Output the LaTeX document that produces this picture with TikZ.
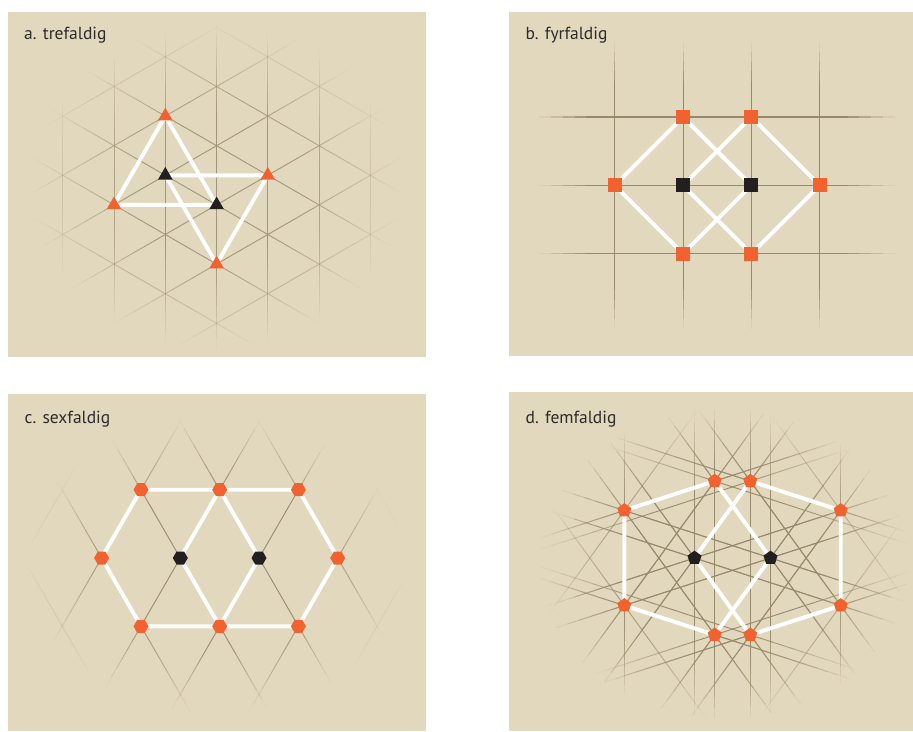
\documentclass[tikz,border=0pt]{standalone}
\usepackage{fontspec}
\setmainfont{PT Sans}
\usetikzlibrary{shapes.geometric}
\definecolor{bg}{HTML}{E2D8BD}
\definecolor{gridc}{HTML}{978A6C}
\definecolor{org}{HTML}{F26231}
\definecolor{blk}{HTML}{231F20}
\definecolor{txt}{HTML}{2E2C2A}
\pgfdeclarelayer{back}
\pgfdeclarelayer{mid}
\pgfsetlayers{back,mid,main}
% faded line: opacity from an elliptical radial profile
\def\setfade#1#2#3#4#5{\def\fcx{#1}\def\fcy{#2}\def\frx{#3}\def\fry{#4}\def\frz{#5}}
\def\fN{30}
\newcommand\fline[4]{%
 \pgfmathsetmacro\fu{((#1)-(\fcx))/(\frx)}%
 \pgfmathsetmacro\fv{((#2)-(\fcy))/(\fry)}%
 \pgfmathsetmacro\fdu{((#3)-(#1))/(\frx)}%
 \pgfmathsetmacro\fdv{((#4)-(#2))/(\fry)}%
 \pgfmathsetmacro\fa{(\fdu)*(\fdu)+(\fdv)*(\fdv)}%
 \pgfmathsetmacro\fb{2*((\fu)*(\fdu)+(\fv)*(\fdv))}%
 \pgfmathsetmacro\fc{(\fu)*(\fu)+(\fv)*(\fv)-1}%
 \pgfmathsetmacro\fD{(\fb)*(\fb)-4*(\fa)*(\fc)}%
 \ifdim\fD pt>0.0001pt
   \pgfmathsetmacro\fta{max(0,(-(\fb)-sqrt(\fD))/(2*(\fa)))}%
   \pgfmathsetmacro\ftb{min(1,(-(\fb)+sqrt(\fD))/(2*(\fa)))}%
   \ifdim\ftb pt>\fta pt
   \foreach \i in {1,...,\fN}{%
     \pgfmathsetmacro\fts{(\fta)+(\i-1)*((\ftb)-(\fta))/\fN}%
     \pgfmathsetmacro\fte{(\fta)+\i*((\ftb)-(\fta))/\fN}%
     \pgfmathsetmacro\ftm{((\fts)+(\fte))/2}%
     \pgfmathsetmacro\fr{sqrt(((\fu)+(\ftm)*(\fdu))^2+((\fv)+(\ftm)*(\fdv))^2)}%
     \pgfmathsetmacro\fop{min(1,max(0,(1-(\fr))/(1-(\frz))))}%
     \ifdim\fop pt>0.02pt
       \draw[fl, draw opacity=\fop] ({(#1)+(\fts)*((#3)-(#1))},{(#2)+(\fts)*((#4)-(#2))}) -- ({(#1)+(\fte)*((#3)-(#1))},{(#2)+(\fte)*((#4)-(#2))});
     \fi
   }%
   \fi
 \fi}
\begin{document}
\begin{tikzpicture}[x=1pt,y=-1pt,
  gl/.style={draw=gridc, line width=0.9pt},
  gla/.style={draw=gridc!85!bg, line width=0.9pt},
  glh/.style={draw=gridc, line width=1.25pt},
  fl/.style={gl},
  wl/.style={draw=white, line width=3.9pt},
  tri/.style={regular polygon, regular polygon sides=3, minimum size=16.8pt, inner sep=0pt, fill=#1},
  sqr/.style={regular polygon, regular polygon sides=4, minimum size=19.8pt, inner sep=0pt, fill=#1},
  hexa/.style={regular polygon, regular polygon sides=6, minimum size=15pt, inner sep=0pt, fill=#1},
  penta/.style={regular polygon, regular polygon sides=5, minimum size=14.8pt, inner sep=0pt, fill=#1},
  lbl/.style={anchor=base west, inner sep=0pt, text=txt, font=\fontsize{17.5}{20}\selectfont}]
\useasboundingbox (0,0) rectangle (913,731);
\begin{pgfonlayer}{back}
\fill[white] (0,0) rectangle (913,731);
% ---------- panel a
\fill[bg] (8,12.3) rectangle (426,356.7);
\tikzset{fl/.style={gla}}
\setfade{216.5}{187}{186}{162}{0.45}
\foreach \k in {-3,...,5}{\pgfmathsetmacro\xx{165.3+\k*51.27}\fline{\xx}{0}{\xx}{370}}
\foreach \m in {-8,...,8}{
  \pgfmathsetmacro\ya{175.3+\m*59.2+0.57735*165.3}
  \pgfmathsetmacro\yb{175.3+\m*59.2-0.57735*(440-165.3)}
  \fline{0}{\ya}{440}{\yb}
  \pgfmathsetmacro\ya{175.3+\m*59.2-0.57735*165.3}
  \pgfmathsetmacro\yb{175.3+\m*59.2+0.57735*(440-165.3)}
  \fline{0}{\ya}{440}{\yb}
}
% ---------- panel b
\fill[bg] (509,12) rectangle (913,355.7);
\tikzset{fl/.style={gl}}
\setfade{717}{185.5}{10000}{143}{0.72}
\foreach \xx in {614.7,683,751.3,819.7}{\fline{\xx}{40}{\xx}{331}}
\tikzset{fl/.style={glh}}
\setfade{717}{185.5}{178}{10000}{0.72}
\foreach \yy in {117,185.3,253.7}{\fline{537}{\yy}{897}{\yy}}
% ---------- panel c
\fill[bg] (8,394) rectangle (426,731);
\tikzset{fl/.style={gl}}
\setfade{216}{565}{190}{148}{0.55}
\foreach \j in {-5,...,6}{
  \pgfmathsetmacro\xa{180.3+\j*78.7-170}
  \pgfmathsetmacro\xb{180.3+\j*78.7+170}
  \fline{\xa}{263.6}{\xb}{852.4}
  \fline{\xa}{852.4}{\xb}{263.6}
}
% ---------- panel d
\fill[bg] (509,392) rectangle (913,731);
\begin{scope}
\clip (509,392) rectangle (913,731);
\tikzset{fl/.style={gl}}
\setfade{724}{564}{184}{154}{0.5}
\foreach \px/\py in {714.7/481.1,750.3/481.1,624.3/510.5,840.7/510.5,624.3/605.5,840.7/605.5,714.7/634.9,750.3/634.9,694.5/558,770.5/558}{
  \foreach \dx/\dy in {0/1,0.9511/0.3090,0.9511/-0.3090,0.5878/0.8090,0.5878/-0.8090}{
    \pgfmathsetmacro\xa{\px-280*\dx}\pgfmathsetmacro\ya{\py-280*\dy}
    \pgfmathsetmacro\xb{\px+280*\dx}\pgfmathsetmacro\yb{\py+280*\dy}
    \fline{\xa}{\ya}{\xb}{\yb}
  }
}
\end{scope}
\end{pgfonlayer}
% ---------- markers a
\node[tri=org] (aT) at (165.3,116.1) {};
\node[tri=org] (aL) at (114.0,204.9) {};
\node[tri=org] (aR) at (267.8,175.3) {};
\node[tri=org] (aBo) at (216.6,264.1) {};
\node[tri=blk] (aK1) at (165.3,175.3) {};
\node[tri=blk] (aK2) at (216.6,204.9) {};
% ---------- markers b
\node[sqr=org] (bT1) at (683,117) {};
\node[sqr=org] (bT2) at (751.3,117) {};
\node[sqr=org] (bL) at (614.7,185.3) {};
\node[sqr=org] (bR) at (819.7,185.3) {};
\node[sqr=org] (bD1) at (683,253.7) {};
\node[sqr=org] (bD2) at (751.3,253.7) {};
\node[sqr=blk] (bK1) at (683,185.3) {};
\node[sqr=blk] (bK2) at (751.3,185.3) {};
% ---------- markers c
\node[hexa=org] (cT1) at (141.0,489.7) {};
\node[hexa=org] (cT2) at (219.7,489.7) {};
\node[hexa=org] (cT3) at (298.4,489.7) {};
\node[hexa=org] (cL) at (101.6,558) {};
\node[hexa=org] (cR) at (337.7,558) {};
\node[hexa=org] (cD1) at (141.0,626.3) {};
\node[hexa=org] (cD2) at (219.7,626.3) {};
\node[hexa=org] (cD3) at (298.4,626.3) {};
\node[hexa=blk] (cK1) at (180.3,558) {};
\node[hexa=blk] (cK2) at (259.0,558) {};
% ---------- markers d
\node[penta=org] (dTL) at (714.7,481.1) {};
\node[penta=org] (dTR) at (750.3,481.1) {};
\node[penta=org] (dLT) at (624.3,510.5) {};
\node[penta=org] (dRT) at (840.7,510.5) {};
\node[penta=org] (dLB) at (624.3,605.5) {};
\node[penta=org] (dRB) at (840.7,605.5) {};
\node[penta=org] (dBL) at (714.7,634.9) {};
\node[penta=org] (dBR) at (750.3,634.9) {};
\node[penta=blk] (dK1) at (694.5,558) {};
\node[penta=blk] (dK2) at (770.5,558) {};
% ---------- white connectors
\begin{pgfonlayer}{mid}
\draw[wl] (aT.center) -- (aL.center) -- (aK2.center) -- cycle;
\draw[wl] (aK1.center) -- (aR.center) -- (aBo.center) -- cycle;
\draw[wl] (bL.center) -- (bT1.center) -- (bK2.center) -- (bD1.center) -- cycle;
\draw[wl] (bK1.center) -- (bT2.center) -- (bR.center) -- (bD2.center) -- cycle;
\draw[wl] (cT1.center) -- (cT2.center) -- (cT3.center) -- (cR.center) -- (cD3.center) -- (cD2.center) -- (cD1.center) -- (cL.center) -- cycle;
\draw[wl] (cT2.center) -- (cK1.center) -- (cD2.center) -- (cK2.center) -- cycle;
\draw[wl] (dTL.center) -- (dLT.center) -- (dLB.center) -- (dBL.center);
\draw[wl] (dTR.center) -- (dRT.center) -- (dRB.center) -- (dBR.center);
\draw[wl] (dTL.center) -- (dK2.center) -- (dBL.center);
\draw[wl] (dTR.center) -- (dK1.center) -- (dBR.center);
\end{pgfonlayer}
% ---------- labels
\node[lbl] (la) at (24,39.3) {a. trefaldig};
\node[lbl] (lb) at (525.5,39.3) {b. fyrfaldig};
\node[lbl] (lc) at (24.5,423.5) {c. sexfaldig};
\node[lbl] (ld) at (525.5,423.5) {d. femfaldig};
\end{tikzpicture}
\end{document}
